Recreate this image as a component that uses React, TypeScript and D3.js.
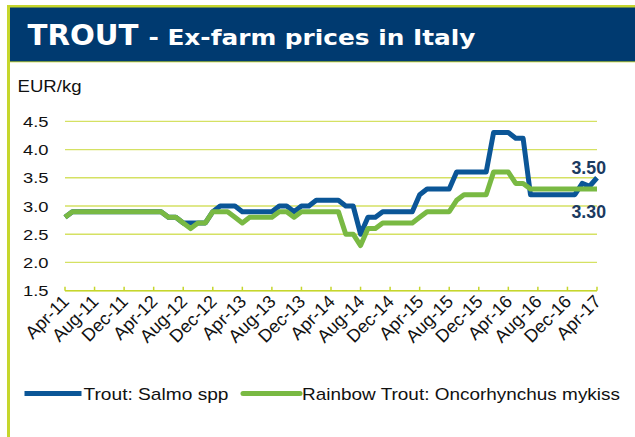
import React from "react";
import * as d3 from "d3";

const startMonth = new Date(2011, 3, 1);
const endMonth = new Date(2017, 3, 1);
const months = d3.timeMonth.range(startMonth, d3.timeMonth.offset(endMonth, 1));

const salmoSpp = [
  2.8, 2.9, 2.9, 2.9, 2.9, 2.9, 2.9, 2.9, 2.9, 2.9, 2.9, 2.9, 2.9, 2.9, 2.8, 2.8,
  2.7, 2.7, 2.7, 2.7, 2.9, 3.0, 3.0, 3.0, 2.9, 2.9, 2.9, 2.9, 2.9, 3.0, 3.0, 2.9,
  3.0, 3.0, 3.1, 3.1, 3.1, 3.1, 3.0, 3.0, 2.5, 2.8, 2.8, 2.9, 2.9, 2.9, 2.9, 2.9,
  3.2, 3.3, 3.3, 3.3, 3.3, 3.6, 3.6, 3.6, 3.6, 3.6, 4.3, 4.3, 4.3, 4.2, 4.2, 3.2,
  3.2, 3.2, 3.2, 3.2, 3.2, 3.2, 3.4, 3.35, 3.5,
];

const rainbowTrout = [
  2.8, 2.9, 2.9, 2.9, 2.9, 2.9, 2.9, 2.9, 2.9, 2.9, 2.9, 2.9, 2.9, 2.9, 2.8, 2.8,
  2.7, 2.6, 2.7, 2.7, 2.9, 2.9, 2.9, 2.8, 2.7, 2.8, 2.8, 2.8, 2.8, 2.9, 2.9, 2.8,
  2.9, 2.9, 2.9, 2.9, 2.9, 2.9, 2.5, 2.5, 2.3, 2.6, 2.6, 2.7, 2.7, 2.7, 2.7, 2.7,
  2.8, 2.9, 2.9, 2.9, 2.9, 3.1, 3.2, 3.2, 3.2, 3.2, 3.6, 3.6, 3.6, 3.4, 3.4, 3.3,
  3.3, 3.3, 3.3, 3.3, 3.3, 3.3, 3.3, 3.3, 3.3,
];

const yTicks = [1.5, 2.0, 2.5, 3.0, 3.5, 4.0, 4.5];
const xTickLabels = [
  "Apr-11", "Aug-11", "Dec-11", "Apr-12", "Aug-12", "Dec-12", "Apr-13", "Aug-13",
  "Dec-13", "Apr-14", "Aug-14", "Dec-14", "Apr-15", "Aug-15", "Dec-15", "Apr-16",
  "Aug-16", "Dec-16", "Apr-17",
];
const seriesNames = ["Trout: Salmo spp", "Rainbow Trout: Oncorhynchus mykiss"];
const endLabels = ["3.50", "3.30"];

const W = 635;
const H = 437;
const NAVY = "#003a70";
const FRAME = "#c6d62c";
const GRID = "#d5e163";
const BLUE = "#0b5697";
const GREEN = "#79b943";
const LABEL = "#1b3a60";
const FONT = "'Liberation Sans', Arial, sans-serif";

export default function App() {
  const x = d3.scaleLinear().domain([0, months.length - 1]).range([65, 597]);
  const y = d3.scaleLinear().domain([1.5, 4.5]).range([290.7, 121.3]);
  const line = d3
    .line<number>()
    .x((_, i) => x(i))
    .y((d) => y(d))
    .curve(d3.curveLinear);

  return (
    <svg
      width={W}
      height={H}
      style={{ position: "absolute", left: 0, top: 0, display: "block", background: "#fff" }}
    >
      {/* frame */}
      <rect x={7} y={5} width={W} height={57} fill={NAVY} />
      <rect x={7} y={5} width={W} height={2.5} fill={FRAME} />
      <rect x={7} y={61} width={W} height={1.5} fill={FRAME} opacity={0.6} />
      <rect x={7} y={5} width={3} height={H} fill={FRAME} />

      {/* title */}
      <text x={27.5} y={45} fill="#fff" fontFamily="'DejaVu Sans', Verdana, sans-serif" fontWeight="bold" fontSize={28} textLength={111} lengthAdjust="spacingAndGlyphs">
        TROUT
      </text>
      <text x={148.5} y={45} fill="#fff" fontFamily="'DejaVu Sans', Verdana, sans-serif" fontWeight="bold" fontSize={22} textLength={327} lengthAdjust="spacingAndGlyphs">
        - Ex-farm prices in Italy
      </text>

      {/* y unit */}
      <text x={17.5} y={92} fontFamily={FONT} fontSize={17} fill="#111" textLength={64} lengthAdjust="spacingAndGlyphs">
        EUR/kg
      </text>

      {/* gridlines and y tick labels */}
      {yTicks.map((t) => (
        <g key={t}>
          <line x1={65} x2={597} y1={y(t)} y2={y(t)} stroke={GRID} strokeWidth={1.3} />
          <text x={48.5} y={y(t) + 5.5} textAnchor="end" fontFamily={FONT} fontSize={15} fill="#111" textLength={25.5} lengthAdjust="spacingAndGlyphs">
            {t.toFixed(1)}
          </text>
        </g>
      ))}

      {/* x axis ticks */}
      <line x1={65} x2={597} y1={y(1.5)} y2={y(1.5)} stroke={FRAME} strokeWidth={1.5} />
      {xTickLabels.map((lab, i) => {
        const xi = x(i * 4);
        return (
          <g key={lab}>
            <line x1={xi} x2={xi} y1={y(1.5) - 4} y2={y(1.5)} stroke={FRAME} strokeWidth={1.5} />
            <text
              transform={`translate(${xi + 5},${y(1.5) + 12}) rotate(-45)`}
              textAnchor="end"
              fontFamily={FONT}
              fontSize={18}
              fill="#111"
            >
              {lab}
            </text>
          </g>
        );
      })}

      {/* series */}
      <path d={line(salmoSpp) ?? ""} fill="none" stroke={BLUE} strokeWidth={5} strokeLinejoin="round" />
      <path d={line(rainbowTrout) ?? ""} fill="none" stroke={GREEN} strokeWidth={5} strokeLinejoin="round" />

      {/* end labels */}
      <text x={571.5} y={173.5} fontFamily={FONT} fontWeight="bold" fontSize={18} fill={LABEL} textLength={34.5} lengthAdjust="spacingAndGlyphs">
        {endLabels[0]}
      </text>
      <text x={571.5} y={217.5} fontFamily={FONT} fontWeight="bold" fontSize={18} fill={LABEL} textLength={34.5} lengthAdjust="spacingAndGlyphs">
        {endLabels[1]}
      </text>

      {/* legend */}
      <line x1={24.5} x2={81.5} y1={393.5} y2={393.5} stroke={BLUE} strokeWidth={5} />
      <text x={83.5} y={399.5} fontFamily={FONT} fontSize={17} fill="#111" textLength={145} lengthAdjust="spacingAndGlyphs">
        {seriesNames[0]}
      </text>
      <line x1={243} x2={300} y1={393.5} y2={393.5} stroke={GREEN} strokeWidth={5} strokeLinecap="round" />
      <text x={302} y={399.5} fontFamily={FONT} fontSize={17} fill="#111" textLength={318} lengthAdjust="spacingAndGlyphs">
        {seriesNames[1]}
      </text>
    </svg>
  );
}
